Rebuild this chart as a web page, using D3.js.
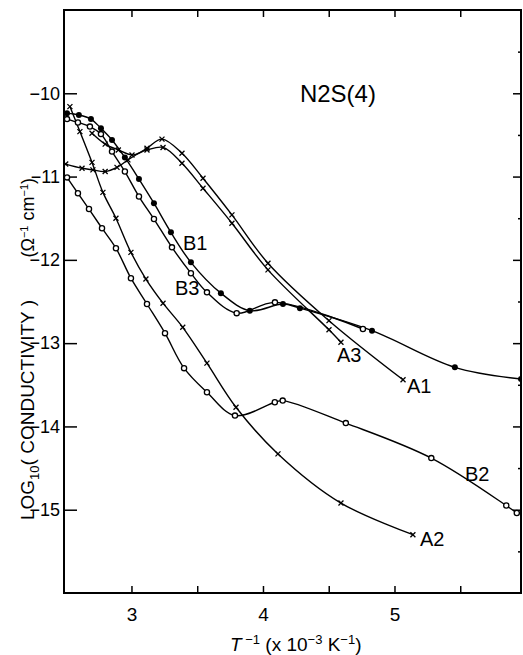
<!DOCTYPE html>
<html><head><meta charset="utf-8">
<script src="https://cdn.jsdelivr.net/npm/d3@7/dist/d3.min.js"></script>
<style>body{margin:0;background:#fff}svg{display:block}text{font-family:"Liberation Sans",Arial,sans-serif;fill:#000}</style>
</head><body><svg id="c" width="523" height="655"></svg>
<script>
// ---- data (x = T^-1 in 10^-3 K^-1, y = log10 conductivity) ----
const xA1 = [2.50, 2.624, 2.707, 2.80, 2.89, 2.973, 3.118, 3.232, 3.384, 3.544, 3.764, 4.038, 4.502, 5.065];
const yA1 = [-10.85, -10.90, -10.92, -10.94, -10.89, -10.80, -10.66, -10.55, -10.72, -11.02, -11.46, -12.04, -12.73, -13.44];
const xA3 = [2.70, 2.80, 2.90, 3.004, 3.118, 3.24, 3.384, 3.544, 3.764, 4.038, 4.502, 4.593];
const yA3 = [-10.48, -10.61, -10.68, -10.74, -10.68, -10.65, -10.84, -11.14, -11.56, -12.12, -12.84, -12.99];
const xA2 = [2.532, 2.608, 2.70, 2.783, 2.882, 2.996, 3.11, 3.24, 3.39, 3.574, 3.795, 4.114, 4.593, 5.14];
const yA2 = [-10.16, -10.46, -10.83, -11.19, -11.50, -11.91, -12.23, -12.52, -12.81, -13.24, -13.77, -14.33, -14.92, -15.30];
const xB1 = [2.51, 2.60, 2.692, 2.768, 2.852, 2.95, 3.057, 3.171, 3.30, 3.452, 3.68, 3.90, 4.152, 4.281, 4.829, 5.459, 5.962];
const yB1 = [-10.24, -10.26, -10.31, -10.42, -10.56, -10.77, -11.03, -11.32, -11.67, -12.03, -12.40, -12.61, -12.53, -12.58, -12.85, -13.29, -13.43];
const xB3 = [2.51, 2.593, 2.684, 2.768, 2.852, 2.95, 3.057, 3.171, 3.308, 3.452, 3.574, 3.80, 4.091, 4.76];
const yB3 = [-10.31, -10.35, -10.40, -10.49, -10.70, -10.94, -11.24, -11.51, -11.85, -12.16, -12.39, -12.64, -12.51, -12.83];
const xB2 = [2.51, 2.593, 2.677, 2.776, 2.882, 2.996, 3.118, 3.255, 3.40, 3.574, 3.787, 4.09, 4.15, 4.63, 5.28, 5.85, 5.93];
const yB2 = [-11.01, -11.20, -11.39, -11.62, -11.86, -12.22, -12.53, -12.88, -13.30, -13.59, -13.87, -13.71, -13.69, -13.96, -14.38, -14.95, -15.04];
const xTicks = [3, 4, 5];
const yTicks = [-10, -11, -12, -13, -14, -15];
// ----------------------------------------------------------------

const svg = d3.select("#c");
const L = 64, R = 521, T = 10, B = 593;
const x = d3.scaleLinear().domain([2.487, 5.962]).range([L, R]);
const y = d3.scaleLinear().domain([-16, -9]).range([B, T]);

const g = svg.append("g");
g.append("rect").attr("x", L).attr("y", T).attr("width", R - L).attr("height", B - T)
  .attr("fill", "none").attr("stroke", "#000").attr("stroke-width", 2);

const bx = svg.append("g").attr("transform", `translate(0,${B})`)
  .call(d3.axisBottom(x).tickValues(d3.range(3, 6, 0.5)).tickSize(-7).tickFormat(d => xTicks.includes(d) ? d : ""));
bx.select(".domain").remove();
bx.selectAll("line").attr("stroke-width", 1.5);
bx.selectAll("text").attr("dy", "1.3em").style("font-size", "19px").style("font-family", "Liberation Sans, Arial");
const tx = svg.append("g").attr("transform", `translate(0,${T})`)
  .call(d3.axisTop(x).tickValues(d3.range(3, 6, 0.5)).tickSize(-7).tickFormat(""));
tx.select(".domain").remove();
tx.selectAll("line").attr("stroke-width", 1.5);
const ly = svg.append("g").attr("transform", `translate(${L},0)`)
  .call(d3.axisLeft(y).tickValues(yTicks).tickSize(-13).tickPadding(4).tickFormat(d => "−" + Math.abs(d)));
ly.select(".domain").remove();
ly.selectAll("line").attr("stroke-width", 1.5);
ly.selectAll("text").attr("x", -4).style("font-size", "18px").style("font-family", "Liberation Sans, Arial");
const ry = svg.append("g").attr("transform", `translate(${R},0)`)
  .call(d3.axisRight(y).tickValues(yTicks.concat([-9.5, -10.5, -11.5, -12.5, -13.5, -14.5, -15.5])).tickSize(-8).tickFormat(""));
ry.select(".domain").remove();
ry.selectAll(".tick line").attr("stroke-width", 1.5).attr("x2", d => Number.isInteger(d) ? -8 : -3);

const line = d3.line().x(d => x(d[0])).y(d => y(d[1])).curve(d3.curveCatmullRom.alpha(0.5));
const series = [
  {xs: xA1, ys: yA1, m: "x"}, {xs: xA3, ys: yA3, m: "x"}, {xs: xA2, ys: yA2, m: "x"},
  {xs: xB1, ys: yB1, m: "f"}, {xs: xB3, ys: yB3, m: "o"}, {xs: xB2, ys: yB2, m: "o"}
];
svg.append("clipPath").attr("id", "pc").append("rect")
  .attr("x", L).attr("y", T).attr("width", R - L).attr("height", B - T);
const plot = svg.append("g").attr("clip-path", "url(#pc)");
series.forEach(s => {
  const pts = s.xs.map((v, i) => [v, s.ys[i]]);
  plot.append("path").attr("d", line(pts)).attr("fill", "none").attr("stroke", "#000").attr("stroke-width", 1.4);
  const mk = plot.append("g");
  pts.forEach(p => {
    const cx = x(p[0]), cy = y(p[1]);
    if (s.m === "x") {
      mk.append("path").attr("d", `M${cx-2.5},${cy-2.5}L${cx+2.5},${cy+2.5}M${cx-2.5},${cy+2.5}L${cx+2.5},${cy-2.5}`)
        .attr("stroke", "#000").attr("stroke-width", 1.3);
    } else if (s.m === "o") {
      mk.append("circle").attr("cx", cx).attr("cy", cy).attr("r", 2.6)
        .attr("fill", "#fff").attr("stroke", "#000").attr("stroke-width", 1.3);
    } else {
      mk.append("circle").attr("cx", cx).attr("cy", cy).attr("r", 3).attr("fill", "#000");
    }
  });
});

const labs = [["B1", 3.392, -11.88], ["B3", 3.331, -12.42], ["A3", 4.563, -13.23],
              ["A1", 5.095, -13.60], ["B2", 5.536, -14.66], ["A2", 5.194, -15.44]];
labs.forEach(l => svg.append("text").attr("x", x(l[1])).attr("y", y(l[2])).style("font-size", "20px").text(l[0]));
svg.append("text").attr("x", x(4.281)).attr("y", y(-10.10)).style("font-size", "24px").text("N2S(4)");

// y axis title
const yt = svg.append("text").attr("transform", "translate(34,520) rotate(-90)").style("font-size", "19px");
yt.append("tspan").text("LOG");
yt.append("tspan").attr("dy", 5).style("font-size", "13px").text("10");
yt.append("tspan").attr("dy", -5).text("( CONDUCTIVITY )");
const yu = svg.append("text").attr("transform", "translate(34,178) rotate(-90)")
  .attr("text-anchor", "end").style("font-size", "18px");
yu.append("tspan").text("(Ω");
yu.append("tspan").attr("dy", -6).style("font-size", "11px").text("−1");
yu.append("tspan").attr("dy", 6).text(" cm");
yu.append("tspan").attr("dy", -6).style("font-size", "11px").text("−1");
yu.append("tspan").attr("dy", 6).text(")");

const xt = svg.append("text").attr("x", 230).attr("y", 651).style("font-size", "19px");
xt.append("tspan").style("font-style", "italic").text("T");
xt.append("tspan").attr("dy", -7).style("font-size", "13px").text(" −1");
xt.append("tspan").attr("dy", 7).text(" (x 10");
xt.append("tspan").attr("dy", -7).style("font-size", "13px").text("−3");
xt.append("tspan").attr("dy", 7).text(" K");
xt.append("tspan").attr("dy", -7).style("font-size", "13px").text("−1");
xt.append("tspan").attr("dy", 7).text(")");
</script></body></html>
